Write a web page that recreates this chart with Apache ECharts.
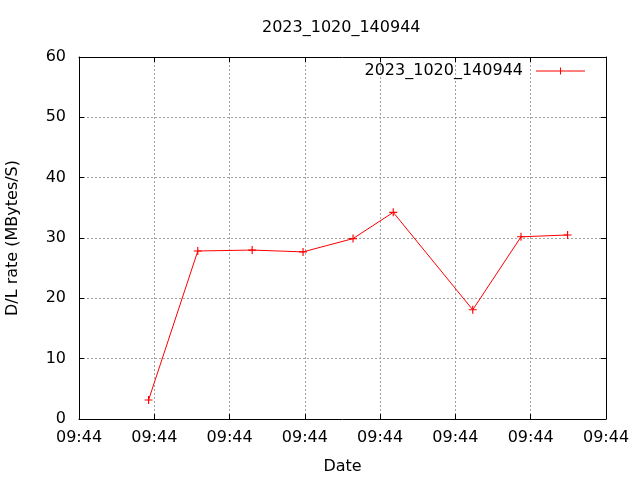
<!DOCTYPE html>
<html><head><meta charset="utf-8">
<script src="https://cdn.jsdelivr.net/npm/echarts@6/dist/echarts.min.js"></script>
<style>html,body{margin:0;padding:0;background:#fff}#c{width:640px;height:480px}</style>
</head><body><div id="c"></div>
<script>
const titleText = "2023_1020_140944";
const seriesName = "2023_1020_140944";
const xTickLabel = "09:44";
const xPositions = [0.924, 1.578, 2.30, 2.976, 3.64, 4.174, 5.23, 5.871, 6.49];
const rates = [3.15, 27.85, 28.0, 27.7, 29.9, 34.25, 18.1, 30.2, 30.5];
const yName = "D/L rate (MBytes/S)";
const xName = "Date";

const font = "DejaVu Sans";
const plus = 'path://M3,0H4V3H7V4H4V7H3V4H0V3H3Z';
const legendIcon = 'path://M0,3H24V0H25V3H49V4H25V7H24V4H0Z';
const chart = echarts.init(document.getElementById('c'), null, {renderer: 'canvas'});
const grid = {left: 79, right: 34, top: 57, bottom: 61, containLabel: false, outerBoundsMode: 'none'};
const tickStyle = {show: true, inside: true, length: 5, lineStyle: {color: '#000', width: 1}};
const axisLine = {show: true, onZero: false, lineStyle: {color: '#000', width: 1}};
chart.setOption({
  animation: false,
  backgroundColor: '#fff',
  textStyle: {fontFamily: font},
  title: {text: titleText, left: 262, top: 20, padding: 0,
    textStyle: {fontFamily: font, fontSize: 16, fontWeight: 'normal', color: '#000'}},
  legend: {data: [{name: seriesName, icon: legendIcon}], right: 55, top: 63, align: 'right', padding: 0,
    itemWidth: 49, itemHeight: 7, itemGap: 10,
    textStyle: {fontFamily: font, fontSize: 16, color: '#000', padding: [0, 8, 0, 0]}},
  grid: grid,
  xAxis: [{
    type: 'value', min: 0, max: 7, interval: 1, position: 'bottom',
    name: xName, nameLocation: 'middle', nameGap: 40,
    nameTextStyle: {fontFamily: font, fontSize: 16, color: '#000'},
    axisLine: axisLine, axisTick: tickStyle,
    axisLabel: {formatter: () => xTickLabel, fontFamily: font, fontSize: 16, color: '#000', margin: 11},
    splitLine: {show: true, lineStyle: {color: '#a0a0a0', type: [2, 2], width: 1}}
  }, {
    type: 'value', min: 0, max: 7, interval: 1, position: 'top',
    axisLine: axisLine, axisTick: tickStyle, axisLabel: {show: false}, splitLine: {show: false}
  }],
  yAxis: [{
    type: 'value', min: 0, max: 60, interval: 10, position: 'left',
    name: yName, nameLocation: 'middle', nameGap: 58,
    nameTextStyle: {fontFamily: font, fontSize: 16, color: '#000'},
    axisLine: axisLine, axisTick: tickStyle,
    axisLabel: {fontFamily: font, fontSize: 16, color: '#000', margin: 13},
    splitLine: {show: true, lineStyle: {color: '#a0a0a0', type: [2, 2], width: 1}}
  }, {
    type: 'value', min: 0, max: 60, interval: 10, position: 'right',
    axisLine: axisLine, axisTick: tickStyle, axisLabel: {show: false}, splitLine: {show: false}
  }],
  series: [{
    name: seriesName, type: 'line',
    data: xPositions.map((x, i) => [x, rates[i]]),
    symbol: plus, symbolSize: 8, showAllSymbol: true,
    itemStyle: {color: '#ff0000'},
    lineStyle: {color: '#ff0000', width: 1}
  }]
});
</script></body></html>
